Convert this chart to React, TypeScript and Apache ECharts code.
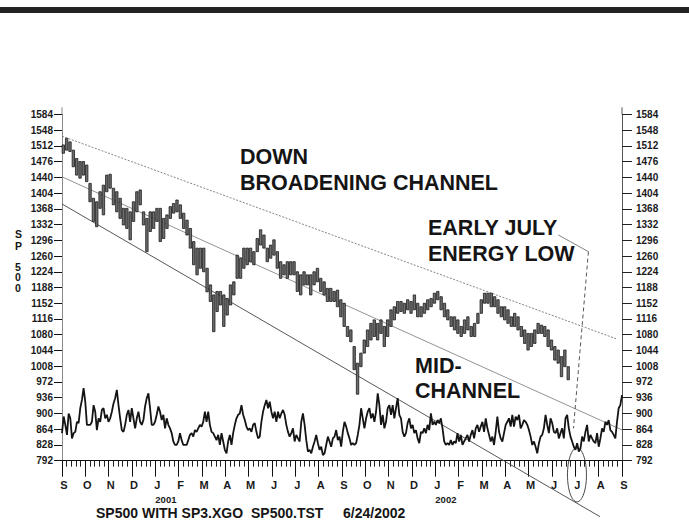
import React, { useEffect, useRef } from "react";
import * as echarts from "echarts";

const FONT = "'Liberation Sans', Arial, Helvetica, sans-serif";

// Axis definitions
const monthLetters = ["S","O","N","D","J","F","M","A","M","J","J","A","S","O","N","D","J","F","M","A","M","J","J","A","S"];
const yearLabels: Record<number, string> = { 4: "2001", 16: "2002" };
const yMin = 792;
const yMax = 1584;
const yStep = 36;
const xMin = 0; // months from Sep 2000
const xMax = 24;

// SP500 price bars (high / low), about every 3 trading days, Sep 2000 - 24 Jun 2002
const priceStartMonth = 0.056;
const priceStepMonth = 0.1433;
const priceHigh = [
  1514,1529,1521,1502,1483,1476,1476,1468,1426,1392,1384,1407,1422,1445,1447,1415,1407,1392,1369,1369,1361,1384,1407,1411,1361,1346,1361,1361,1369,1369,1346,1354,1373,1380,1388,1377,1358,1342,1323,1293,1278,1278,1278,
  1232,1194,1171,1179,1179,1171,1163,1194,1201,1262,1255,1278,1278,1278,1270,1300,1320,1308,1278,1285,1297,1270,1247,1240,1247,1247,1247,1224,1217,1224,1217,1217,1224,1232,1209,1201,1186,1186,1179,
  1182,1160,1152,1099,1091,1053,1015,1038,1068,1091,1106,1114,1106,1114,1099,1114,1137,1144,1156,1156,1152,1160,1156,1171,1152,1144,1152,1160,1163,1175,1179,1167,1152,1137,1121,1121,1114,1099,1114,1121,1099,1106,1129,1160,1175,1175,1175,1167,1160,1144,1144,1137,1121,1129,1121,1099,1091,1083,1083,1091,1106,1102,1099,1091,1068,1053,1045,1030,1045,1007
];
const priceLow = [
  1495,1502,1499,1464,1445,1438,1445,1430,1384,1339,1327,1369,1354,1407,1415,1377,1361,1346,1331,1323,1297,1339,1361,1377,1331,1270,1316,1323,1339,1293,1300,1323,1346,1358,1361,1346,1323,1308,1278,1240,1217,1232,1224,
  1178,1156,1087,1133,1148,1099,1125,1148,1171,1209,1209,1232,1240,1247,1240,1270,1285,1278,1247,1255,1262,1232,1209,1217,1209,1217,1217,1179,1171,1194,1194,1171,1194,1201,1179,1171,1156,1156,1156,
  1144,1121,1099,1076,1064,1000,944,1007,1038,1053,1068,1076,1068,1083,1053,1076,1099,1114,1129,1133,1129,1137,1129,1137,1121,1121,1129,1137,1144,1152,1160,1137,1121,1114,1099,1091,1083,1076,1083,1091,1076,1076,1106,1129,1152,1152,1144,1144,1129,1121,1114,1106,1099,1099,1091,1076,1060,1045,1053,1060,1083,1083,1076,1053,1045,1022,1015,984,1007,977
];

// SP3.XGO oscillator (plotted on the price scale), Sep 2000 - Sep 2002
const xgoPart1 = [
  855,893,874,851,900,889,843,855,858,881,878,912,931,958,927,874,874,874,881,919,
  904,862,889,881,908,912,889,897,881,889,904,923,935,954,919,889,862,858,874,897,
  908,881,912,889,866,889,904,881,874,885,916,935,946,912,874,874,881,897,916,904,
  885,897,866,889,874,866,855,836,828,828,836,855,839,828,828,828,839,851,855,847,
  862,858,866,874,870,881,904,881,904,874,858,855,847,839,851,828,855,836,817,809,
  836,851,828,855,874,889,897,900,919,897,885,870,862,866
];
const xgoPart2 = [
  858,874,878,858,843,847,881,904,919,931,912,927,904,889,904,881,904,889,900,908,
  897,874,858,847,855,866,836,851,843,836,881,900,874,839,813,817,809,824,836,851,
  832,817,824,805,809,828,847,836,824,843,847,862,839,847,824,858,881,870,855,843,
  828,832,828,832,851,874,912,889,866,889,904,912,889,900,881,904,946,919,874,897,
  866,881,912,919,897,919,889,912,935,897,889,858,847,855,878,889,866,874,855,862,
  843,832,858,855,866,855,874,862,900,874,881
];
const xgoPart3 = [
  874,885,878,889,866,836,828,832,828,839,828,836,832,855,836,851,828,836,843,851,
  836,851,862,843,866,874,858,870,881,858,889,866,851,836,847,828,858,893,858,843,
  836,855,874,881,889,870,897,870,893,885,897,866,874,885,881,874,862,847,828,836,
  824,809,832,847,851,866,897,874,855,889,878,858,855,866,843,855,866,843,889,897,
  866,847,836,824,817,832,813,820,847,836,858,874,836,851,843,836,832,855,824,843,
  866,858,881,874,885,862,858,851,843,881,912,919,942
];

// Annotation lines in [month, price]
const upperChannel = [[0, 1534], [23.79, 1070]];
const midChannel = [[0, 1441], [24.47, 851]];
const lowerChannel = [[0, 1379], [23.06, 664]];
const julyPointer = [[21.27, 1308], [22.56, 1270]];
const julyDashed = [[22.56, 1270], [21.92, 866]];
const julyCircleCenter = [22.07, 759.5];

export default function App() {
  const ref = useRef<HTMLDivElement>(null);

  useEffect(() => {
    if (!ref.current) return;
    const chart = echarts.init(ref.current, undefined, { renderer: "svg" });

    const priceBars = priceHigh.map((h, i) => [priceStartMonth + i * priceStepMonth, h, priceLow[i]]);
    const xgoValues = [...xgoPart1, ...xgoPart2, ...xgoPart3];
    const xgoStep = (xMax - xMin) / (xgoValues.length - 1);
    const xgoData = xgoValues.map((v, i) => [xMin + i * xgoStep, v]);

    const labelBase = { fontFamily: FONT, fontWeight: "bold" as const, color: "#1a1a1a" };

    const lineSeries = (data: number[][], color: string, width: number, type: any) => ({
      type: "line",
      data,
      symbol: "none",
      clip: false,
      silent: true,
      z: 1,
      lineStyle: { color, width, type },
    });

    const option: any = {
      animation: false,
      backgroundColor: "#ffffff",
      grid: { left: 62, right: 67, top: 114.3, bottom: 60.3 },
      xAxis: [
        {
          type: "value",
          min: xMin,
          max: xMax,
          interval: 1,
          position: "bottom",
          axisLine: { onZero: false, lineStyle: { color: "#111", width: 1.2 } },
          axisTick: { length: 16, lineStyle: { color: "#111", width: 1 } },
          minorTick: { show: true, splitNumber: 5, length: 6, lineStyle: { color: "#222", width: 1 } },
          splitLine: { show: false },
          minorSplitLine: { show: false },
          axisLabel: {
            ...labelBase,
            fontSize: 11,
            margin: 19,
            padding: [0, 0, 0, 4],
            formatter: (v: number) => monthLetters[Math.round(v)] ?? "",
          },
        },
        {
          type: "value",
          min: xMin,
          max: xMax,
          interval: 1,
          position: "bottom",
          axisLine: { show: false, onZero: false },
          axisTick: { show: false },
          splitLine: { show: false },
          axisLabel: {
            ...labelBase,
            fontSize: 9.5,
            margin: 34,
            align: "left",
            formatter: (v: number) => yearLabels[Math.round(v)] ?? "",
          },
        },
      ],
      yAxis: [
        {
          type: "value",
          min: yMin,
          max: yMax,
          interval: yStep,
          position: "left",
          axisLine: { show: true, onZero: false, lineStyle: { color: "#8a8a8a", width: 1 } },
          axisTick: { show: true, length: 8, lineStyle: { color: "#111", width: 1 } },
          splitLine: { show: false },
          axisLabel: { ...labelBase, fontSize: 10, margin: 9, formatter: (v: number) => String(v) },
        },
        {
          type: "value",
          min: yMin,
          max: yMax,
          interval: yStep,
          position: "right",
          axisLine: { show: true, onZero: false, lineStyle: { color: "#555", width: 1 } },
          axisTick: { show: true, length: 10, lineStyle: { color: "#222", width: 1 } },
          splitLine: { show: false },
          axisLabel: { ...labelBase, fontSize: 10, margin: 14, formatter: (v: number) => String(v) },
        },
      ],
      series: [
        lineSeries(upperChannel, "#666", 0.8, [2, 1.5]),
        lineSeries(midChannel, "#777", 0.8, "solid"),
        lineSeries(lowerChannel, "#444", 0.9, "solid"),
        lineSeries(julyPointer, "#666", 0.8, "solid"),
        lineSeries(julyDashed, "#444", 0.9, [4, 3]),
        {
          type: "custom",
          coordinateSystem: "cartesian2d",
          data: priceBars,
          encode: { x: 0, y: [1, 2] },
          silent: true,
          z: 3,
          renderItem: (params: any, api: any) => {
            const x = api.value(0);
            const p1 = api.coord([x, api.value(1)]);
            const p2 = api.coord([x, api.value(2)]);
            return {
              type: "rect",
              shape: { x: p1[0] - 1.2, y: p1[1], width: 2.4, height: Math.max(1, p2[1] - p1[1]) },
              style: { fill: "#6e6e6e", stroke: "#1c1c1c", lineWidth: 0.8 },
            };
          },
        },
        {
          type: "line",
          data: xgoData,
          symbol: "none",
          silent: true,
          z: 3,
          lineStyle: { color: "#141414", width: 1.8 },
        },
      ],
    };

    chart.setOption(option);

    const c = chart.convertToPixel({ xAxisIndex: 0, yAxisIndex: 0 }, julyCircleCenter) as number[];
    const topY = chart.convertToPixel({ yAxisIndex: 0 }, yMax) as number;
    const leftX = chart.convertToPixel({ xAxisIndex: 0 }, xMin) as number;
    const rightX = chart.convertToPixel({ xAxisIndex: 0 }, xMax) as number;

    const txt = (text: string, x: number, y: number, size: number) => ({
      type: "text",
      x,
      y,
      silent: true,
      style: {
        text,
        fontFamily: FONT,
        fontWeight: "bold",
        fontSize: size,
        fill: "#151515",
        verticalAlign: "middle",
        textVerticalAlign: "middle",
      },
    });

    chart.setOption({
      graphic: [
        { type: "rect", shape: { x: 0, y: 7, width: 689, height: 6 }, style: { fill: "#232323" }, silent: true },
        { type: "line", shape: { x1: leftX, y1: topY - 7, x2: leftX, y2: topY }, style: { stroke: "#8a8a8a", lineWidth: 1 }, silent: true },
        { type: "line", shape: { x1: rightX, y1: topY - 7, x2: rightX, y2: topY }, style: { stroke: "#555", lineWidth: 1 }, silent: true },
        {
          type: "ellipse",
          shape: { cx: c[0], cy: c[1], rx: 9.5, ry: 27 },
          style: { fill: "none", stroke: "#333", lineWidth: 0.9 },
          silent: true,
        },
        txt("DOWN", 240, 157, 21.5),
        txt("BROADENING CHANNEL", 240, 183, 21.5),
        txt("EARLY JULY", 428, 228, 21.5),
        txt("ENERGY LOW", 428, 254, 21.5),
        txt("MID-", 415, 366, 21.5),
        txt("CHANNEL", 415, 391, 21.5),
        txt("S", 15, 234, 10.5),
        txt("P", 15, 245.5, 10.5),
        txt("5", 15, 266.5, 10.5),
        txt("0", 15, 277, 10.5),
        txt("0", 15, 287.5, 10.5),
        txt("SP500 WITH SP3.XGO", 96, 513, 14),
        txt("SP500.TST", 251, 513, 14),
        txt("6/24/2002", 343, 513, 14),
      ],
    });

    return () => {
      chart.dispose();
    };
  }, []);

  return (
    <div
      ref={ref}
      style={{ position: "fixed", left: 0, top: 0, width: 689, height: 521, background: "#fff" }}
    />
  );
}
